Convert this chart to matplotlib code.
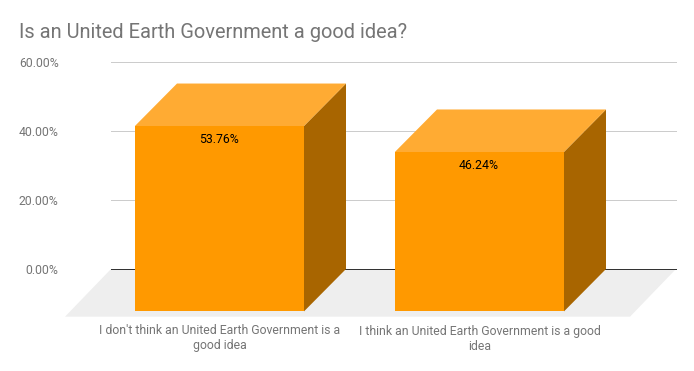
"""
Is an United Earth Government a good idea? - fake 3D column chart.
"""

import numpy as np
import matplotlib.pyplot as plt
from matplotlib.patches import Polygon

categories = ["I don't think an United Earth Government is a\ngood idea",
              "I think an United Earth Government is a good\nidea"]
shares = [53.76, 46.24]
y_ticks = [0, 20, 40, 60]
y_tick_labels = ["0.00%", "20.00%", "40.00%", "60.00%"]
title = "Is an United Earth Government a good idea?"

W, H = 694, 371
FRONT = "#ff9900"
TOP = "#ffab33"
SIDE = "#a86500"
GREY = "#757575"

plt.rcParams["font.family"] = ["Roboto", "DejaVu Sans"]
px = 72 / 100  # points per pixel at dpi 100

fig = plt.figure(figsize=(W / 100, H / 100), dpi=100)
left, right, y_top, y_zero = 111, 676, 62, 269
ax = fig.add_axes([left / W, 1 - y_zero / H, (right - left) / W, (y_zero - y_top) / H])

# one category step is 260 px, 20 percent is 69 px
x_unit = 260
y_unit = (y_zero - y_top) / 60
ax.set_xlim((left - 219.5) / x_unit, (right - 219.5) / x_unit)
ax.set_ylim(0, 60)
bar_w = 169 / x_unit
dx = 42 / x_unit
dy = 42.4 / y_unit
seam = 1 / y_unit  # top face runs under the front face, avoids a light line

ax.set_yticks(y_ticks)
ax.set_yticklabels(y_tick_labels, fontsize=12.25 * px, color=GREY)
ax.set_xticks(np.arange(len(categories)))
ax.set_xticklabels(categories, fontsize=12.25 * px, color=GREY, linespacing=1.2)
ax.tick_params(axis="y", length=0, pad=52.5 * px)
ax.tick_params(axis="x", length=0, pad=55.5 * px)
for s in ax.spines.values():
    s.set_visible(False)
ax.grid(axis="y", color="#cccccc", linewidth=1 * px, clip_on=False)
ax.grid(axis="x", visible=False)
ax.set_axisbelow(True)

# floor and zero line
x0, x1 = ax.get_xlim()
floor_dx = 46 / x_unit
floor_dy = 47.7 / y_unit
ax.add_patch(Polygon([(x0, 0), (x1, 0), (x1 - floor_dx, -floor_dy), (x0 - floor_dx, -floor_dy)],
                     closed=True, facecolor="#eeeeee", edgecolor="none", clip_on=False, zorder=1))
ax.axhline(0, color="#333333", linewidth=1 * px, zorder=1.5, clip_on=False)

for i, val in enumerate(shares):
    xl, xr = i - bar_w / 2, i + bar_w / 2
    base = -dy
    ytop = base + val
    ax.add_patch(Polygon([(xr, base), (xr + dx, 0), (xr + dx, val), (xr, ytop)],
                         closed=True, facecolor=SIDE, edgecolor="none", clip_on=False, zorder=3))
    ax.add_patch(Polygon([(xl, ytop - seam), (xr, ytop - seam), (xr, ytop), (xr + dx, val), (xl + dx, val), (xl, ytop)],
                         closed=True, facecolor=TOP, edgecolor="none", clip_on=False, zorder=3))
    ax.add_patch(Polygon([(xl, base), (xr, base), (xr, ytop), (xl, ytop)],
                         closed=True, facecolor=FRONT, edgecolor="none", clip_on=False, zorder=4))
    ax.annotate(f"{val:.2f}%", (i, ytop), xytext=(-0.8 * px, -13.5 * px), textcoords="offset points",
                ha="center", va="center", fontsize=12.25 * px, color="black", zorder=5)

fig.text(19.2 / W, 1 - 32 / H, title, fontsize=20.05 * px, color=GREY, ha="left", va="center")

fig.savefig("out.png", dpi=100)
